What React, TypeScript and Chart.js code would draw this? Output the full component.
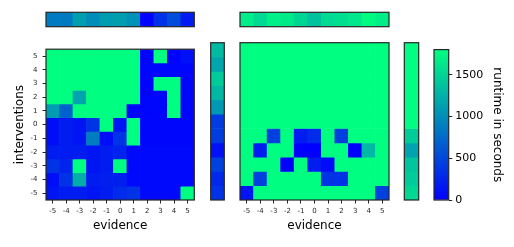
import React, { useEffect, useRef } from 'react';
import { Chart, registerables } from 'chart.js';

Chart.register(...registerables);
Chart.defaults.font.family = "'DejaVu Sans', sans-serif";

// ---------- data ----------
const EVIDENCE = ['-5', '-4', '-3', '-2', '-1', '0', '1', '2', '3', '4', '5'];
const INTERVENTIONS = [5, 4, 3, 2, 1, 0, -1, -2, -3, -4, -5]; // rows, top to bottom
const Y_TICKS = [-5, -4, -3, -2, -1, 0, 1, 2, 3, 4, 5];
const CBAR_TICKS = [0, 500, 1000, 1500];
const VMAX = 1800;
const CBAR_TITLE = 'runtime in seconds';
const X_TITLE = 'evidence';
const Y_TITLE = 'interventions';

// runtime in seconds, rows = interventions 5 .. -5, cols = evidence -5 .. 5
const LEFT_RUNTIME = [
  [1800, 1800, 1800, 1800, 1800, 1800, 1800, 30, 1800, 30, 120],
  [1800, 1800, 1800, 1800, 1800, 1800, 1800, 30, 40, 40, 40],
  [1800, 1800, 1800, 1800, 1800, 1800, 1800, 30, 1800, 1800, 40],
  [1800, 1800, 1150, 1800, 1800, 1800, 1800, 30, 40, 1800, 40],
  [1100, 700, 1800, 1800, 1800, 1800, 30, 30, 40, 1800, 40],
  [100, 200, 150, 350, 1800, 150, 1800, 40, 40, 40, 40],
  [100, 200, 150, 880, 100, 350, 1800, 40, 40, 40, 40],
  [200, 200, 200, 150, 200, 250, 60, 60, 60, 60, 60],
  [350, 250, 1800, 150, 200, 1800, 60, 60, 60, 60, 60],
  [100, 350, 1220, 200, 220, 220, 60, 60, 60, 60, 60],
  [150, 200, 200, 150, 200, 300, 350, 60, 60, 60, 1800],
];
const RIGHT_RUNTIME = [
  [1800, 1800, 1800, 1800, 1800, 1800, 1800, 1800, 1800, 1800, 1800],
  [1800, 1800, 1800, 1800, 1800, 1800, 1800, 1800, 1800, 1800, 1800],
  [1800, 1800, 1800, 1800, 1800, 1800, 1800, 1800, 1800, 1800, 1800],
  [1800, 1800, 1800, 1800, 1800, 1800, 1800, 1800, 1800, 1800, 1800],
  [1800, 1800, 1800, 1800, 1800, 1800, 1800, 1800, 1800, 1800, 1800],
  [1800, 1800, 1800, 1800, 1800, 1800, 1800, 1800, 1800, 1800, 1800],
  [1800, 1800, 450, 1800, 200, 300, 1800, 450, 1800, 1800, 1800],
  [1800, 200, 1800, 1800, 0, 0, 1800, 1800, 0, 1300, 1800],
  [1800, 1800, 1800, 0, 1800, 200, 80, 1800, 1800, 1800, 1800],
  [1800, 450, 1800, 1800, 1800, 1800, 350, 350, 1800, 1800, 1800],
  [150, 1800, 1800, 1800, 1800, 1800, 1800, 1800, 1800, 1800, 450],
];
// marginal means
const LEFT_COL_MEAN = [870, 870, 1120, 1000, 1110, 1120, 1020, 20, 340, 540, 200];
const RIGHT_COL_MEAN = [1670, 1540, 1700, 1650, 1510, 1370, 1540, 1570, 1640, 1770, 1680];
const LEFT_ROW_MEAN = [1320, 1170, 1440, 1300, 1080, 420, 430, 120, 450, 280, 350];
const RIGHT_ROW_MEAN = [1800, 1800, 1800, 1800, 1800, 1800, 1440, 1150, 1380, 1430, 1520];

// ---------- helpers ----------
function winter(v: number): string {
  const t = Math.max(0, Math.min(1, v / VMAX));
  return `rgb(0, ${Math.round(255 * t)}, ${Math.round(255 * (1 - 0.5 * t))})`;
}

const INK = '#262626';

const framePlugin = {
  id: 'frame',
  afterDatasetsDraw(chart: any) {
    const { ctx, chartArea: a } = chart;
    ctx.save();
    ctx.strokeStyle = INK;
    ctx.lineWidth = 1.2;
    ctx.strokeRect(a.left, a.top, a.right - a.left, a.bottom - a.top);
    ctx.restore();
  },
};

type Pad = { left: number; right: number; top: number; bottom: number };

function axisGrid() {
  return {
    display: true,
    drawOnChartArea: false,
    drawTicks: true,
    tickLength: 3.5,
    color: INK,
    lineWidth: 1,
    offset: false,
  };
}

function heatConfig(opts: {
  xLabels: string[];
  rows: number[];
  grid: number[][];
  padding: Pad;
  xAxis?: { title: string; height: number };
  yAxis?: { title: string; width: number };
}) {
  const { xLabels, rows, grid, padding, xAxis, yAxis } = opts;
  const datasets = grid.map((vals, r) => ({
    data: vals.map(() => [rows[r] - 0.5, rows[r] + 0.5]),
    backgroundColor: vals.map(winter),
    borderWidth: 0,
    barPercentage: 1,
    categoryPercentage: 1,
    grouped: false,
  }));
  return {
    type: 'bar',
    data: { labels: xLabels, datasets },
    plugins: [framePlugin],
    options: {
      responsive: false,
      animation: false,
      events: [],
      layout: { padding },
      plugins: { legend: { display: false }, tooltip: { enabled: false } },
      scales: {
        x: {
          type: 'category',
          display: !!xAxis,
          offset: true,
          grid: axisGrid(),
          border: { display: false },
          ticks: { font: { size: 7 }, color: INK, padding: 3, maxRotation: 0, autoSkip: false },
          title: {
            display: !!xAxis,
            text: xAxis ? xAxis.title : '',
            font: { size: 12 },
            color: '#000',
            padding: { top: 0, bottom: 13.6 },
          },
          afterFit: (s: any) => {
            if (xAxis) s.height = xAxis.height;
          },
        },
        y: {
          type: 'linear',
          display: !!yAxis,
          min: Math.min(...rows) - 0.5,
          max: Math.max(...rows) + 0.5,
          afterBuildTicks: (s: any) => {
            s.ticks = Y_TICKS.map((v) => ({ value: v }));
          },
          grid: axisGrid(),
          border: { display: false },
          ticks: { font: { size: 7 }, color: INK, padding: 5, callback: (v: any) => String(v) },
          title: {
            display: !!yAxis,
            text: yAxis ? yAxis.title : '',
            font: { size: 12 },
            color: '#000',
            padding: { top: 12.8, bottom: 0 },
          },
          afterFit: (s: any) => {
            if (yAxis) s.width = yAxis.width;
          },
        },
      },
    },
  };
}

function colorbarConfig() {
  return {
    type: 'bar',
    data: {
      labels: [''],
      datasets: [
        {
          data: [[0, VMAX]],
          backgroundColor: (ctx: any) => {
            const chart = ctx.chart;
            const ys = chart.scales && chart.scales.y;
            if (!chart.chartArea || !ys) return winter(0);
            const g = chart.ctx.createLinearGradient(0, ys.getPixelForValue(0), 0, ys.getPixelForValue(VMAX));
            g.addColorStop(0, winter(0));
            g.addColorStop(1, winter(VMAX));
            return g;
          },
          borderWidth: 0,
          barPercentage: 1,
          categoryPercentage: 1,
        },
      ],
    },
    plugins: [framePlugin],
    options: {
      responsive: false,
      animation: false,
      events: [],
      layout: { padding: { left: 4, right: 0, top: 2.7, bottom: 47 } },
      plugins: { legend: { display: false }, tooltip: { enabled: false } },
      scales: {
        x: { type: 'category', display: false, offset: true },
        y: {
          type: 'linear',
          position: 'right',
          min: 0,
          max: VMAX,
          afterBuildTicks: (s: any) => {
            s.ticks = CBAR_TICKS.map((v) => ({ value: v }));
          },
          grid: axisGrid(),
          border: { display: false },
          ticks: { font: { size: 11 }, color: '#000', padding: 3, callback: (v: any) => String(v) },
          title: {
            display: true,
            text: CBAR_TITLE,
            font: { size: 12 },
            color: '#000',
            padding: { top: 9.8, bottom: 0 },
          },
          afterFit: (s: any) => {
            s.width = 65.3;
          },
        },
      },
    },
  };
}

function ChartBox(props: { left: number; top: number; width: number; height: number; make: () => any }) {
  const ref = useRef<HTMLCanvasElement>(null);
  useEffect(() => {
    const chart = new Chart(ref.current as HTMLCanvasElement, props.make());
    return () => chart.destroy();
  }, []);
  return (
    <canvas
      ref={ref}
      width={props.width}
      height={props.height}
      style={{ position: 'absolute', left: props.left, top: props.top, width: props.width, height: props.height }}
    />
  );
}

export default function App() {
  return (
    <div style={{ position: 'fixed', left: 0, top: 0, width: 514, height: 247, background: '#fff', overflow: 'hidden' }}>
      {/* left main heatmap */}
      <ChartBox
        left={0}
        top={40}
        width={200}
        height={207}
        make={() =>
          heatConfig({
            xLabels: EVIDENCE,
            rows: INTERVENTIONS,
            grid: LEFT_RUNTIME,
            padding: { left: 0, right: 5.7, top: 2.7, bottom: 0 },
            xAxis: { title: X_TITLE, height: 47 },
            yAxis: { title: Y_TITLE, width: 46 },
          })
        }
      />
      {/* left top marginal */}
      <ChartBox
        left={44}
        top={10}
        width={152}
        height={19}
        make={() =>
          heatConfig({
            xLabels: EVIDENCE,
            rows: [0],
            grid: [LEFT_COL_MEAN],
            padding: { left: 2, right: 1.7, top: 2.3, bottom: 2.3 },
          })
        }
      />
      {/* left side marginal */}
      <ChartBox
        left={208}
        top={40}
        width={19}
        height={207}
        make={() =>
          heatConfig({
            xLabels: [''],
            rows: INTERVENTIONS,
            grid: LEFT_ROW_MEAN.map((v) => [v]),
            padding: { left: 2.7, right: 2.7, top: 2.7, bottom: 47 },
          })
        }
      />
      {/* right main heatmap */}
      <ChartBox
        left={200}
        top={40}
        width={200}
        height={207}
        make={() =>
          heatConfig({
            xLabels: EVIDENCE,
            rows: INTERVENTIONS,
            grid: RIGHT_RUNTIME,
            padding: { left: 40, right: 11, top: 2.7, bottom: 0 },
            xAxis: { title: X_TITLE, height: 47 },
          })
        }
      />
      {/* right top marginal */}
      <ChartBox
        left={238}
        top={10}
        width={153}
        height={19}
        make={() =>
          heatConfig({
            xLabels: EVIDENCE,
            rows: [0],
            grid: [RIGHT_COL_MEAN],
            padding: { left: 2, right: 2, top: 2.3, bottom: 2.3 },
          })
        }
      />
      {/* right side marginal */}
      <ChartBox
        left={402}
        top={40}
        width={19}
        height={207}
        make={() =>
          heatConfig({
            xLabels: [''],
            rows: INTERVENTIONS,
            grid: RIGHT_ROW_MEAN.map((v) => [v]),
            padding: { left: 2.3, right: 2.3, top: 2.7, bottom: 47 },
          })
        }
      />
      {/* colorbar */}
      <ChartBox left={430} top={40} width={84} height={207} make={colorbarConfig} />
    </div>
  );
}
